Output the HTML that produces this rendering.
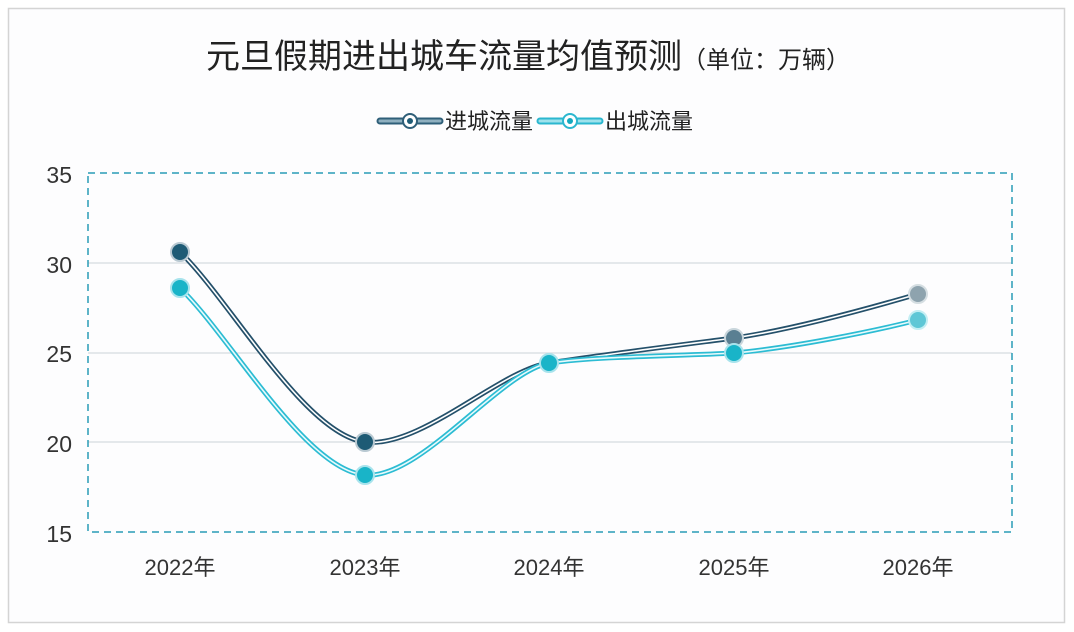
<!DOCTYPE html>
<html><head><meta charset="utf-8"><style>
body{margin:0;background:#fff;}
svg{display:block;font-family:"Liberation Sans","Noto Sans CJK SC",sans-serif;}
</style></head><body>
<svg width="1074" height="632" viewBox="0 0 1074 632">
<rect x="0" y="0" width="1074" height="632" fill="#fff"/>
<rect x="8.5" y="8.5" width="1056" height="614" fill="#fdfdfe" stroke="#d4d4d4" stroke-width="1.5"/>
<text x="528" y="68" font-size="34" fill="#222" text-anchor="middle">元旦假期进出城车流量均值预测<tspan font-size="24">（单位：万辆）</tspan></text>
<g>
<line x1="380" y1="121" x2="440" y2="121" stroke="#2f5f79" stroke-width="7" stroke-linecap="round"/>
<line x1="380" y1="121" x2="440" y2="121" stroke="#8fb0c0" stroke-width="3" stroke-linecap="round"/>
<circle cx="410" cy="121" r="7" fill="#fff" stroke="#2f5f79" stroke-width="2"/><circle cx="410" cy="121" r="3" fill="#1e5b75"/>
<text x="445" y="129" font-size="22" fill="#222">进城流量</text>
<line x1="540" y1="121" x2="600" y2="121" stroke="#2bb7cf" stroke-width="7" stroke-linecap="round"/>
<line x1="540" y1="121" x2="600" y2="121" stroke="#9ee2ec" stroke-width="3" stroke-linecap="round"/>
<circle cx="570" cy="121" r="7" fill="#fff" stroke="#2bb7cf" stroke-width="2"/><circle cx="570" cy="121" r="3" fill="#13a9bf"/>
<text x="605" y="129" font-size="22" fill="#222">出城流量</text>
</g>
<g stroke="#d6dbe0" stroke-width="1.2">
<line x1="88" y1="263" x2="1012" y2="263"/><line x1="88" y1="353" x2="1012" y2="353"/><line x1="88" y1="442" x2="1012" y2="442"/>
</g>
<rect x="88" y="173" width="924" height="359" fill="none" stroke="#2a9bb5" stroke-width="1.5" stroke-dasharray="7,5"/>
<g font-size="23" fill="#333" text-anchor="end">
<text x="72" y="183">35</text><text x="72" y="273">30</text><text x="72" y="362">25</text><text x="72" y="452">20</text><text x="72" y="542">15</text>
</g>
<g font-size="22" fill="#333" text-anchor="middle">
<text x="180" y="575">2022年</text><text x="365" y="575">2023年</text><text x="549" y="575">2024年</text><text x="734" y="575">2025年</text><text x="918" y="575">2026年</text>
</g>
<g fill="none">
<path d="M180,252 C230,300 305,435 365,442 C420,449 500,370 549,363 C600,355 680,345 734,338 C790,330 870,308 918,294" stroke="#24506a" stroke-width="5"/>
<path d="M180,252 C230,300 305,435 365,442 C420,449 500,370 549,363 C600,355 680,345 734,338 C790,330 870,308 918,294" stroke="#fff" stroke-width="1.6"/>
<path d="M180,288 C230,336 305,470 365,475 C420,480 500,372 549,363 C600,356 680,356 734,353 C790,348 870,332 918,320" stroke="#2cbcd3" stroke-width="5"/>
<path d="M180,288 C230,336 305,470 365,475 C420,480 500,372 549,363 C600,356 680,356 734,353 C790,348 870,332 918,320" stroke="#e8fafc" stroke-width="1.6"/>
</g>
<g stroke-width="2">
<circle cx="180" cy="252" r="9" fill="#1e5b75" stroke="#b9c9d2"/>
<circle cx="365" cy="442" r="9" fill="#1e5b75" stroke="#b9c9d2"/>
<circle cx="734" cy="338" r="9" fill="#5a7f92" stroke="#c9d6dc"/>
<circle cx="918" cy="294" r="9" fill="#8ea3ae" stroke="#d5dee2"/>
<circle cx="180" cy="288" r="9" fill="#19b4c8" stroke="#a8e3ec"/>
<circle cx="365" cy="475" r="9" fill="#19b4c8" stroke="#a8e3ec"/>
<circle cx="549" cy="363" r="9" fill="#19b4c8" stroke="#a8e3ec"/>
<circle cx="734" cy="353" r="9" fill="#19b4c8" stroke="#a8e3ec"/>
<circle cx="918" cy="320" r="9" fill="#5fc7d6" stroke="#c3eef3"/>
</g>
</svg>
</body></html>
